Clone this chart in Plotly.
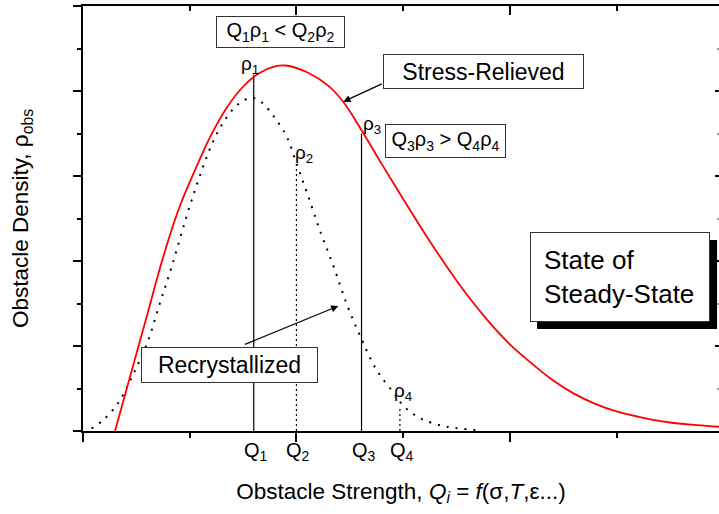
import plotly.graph_objects as go

# ---------------- data ----------------
red_x = [0.30, 0.45, 0.60, 0.75, 0.90, 1.05, 1.20, 1.35, 1.50, 1.65, 1.80, 1.90,
         2.10, 2.30, 2.44, 2.60, 2.80, 3.00, 3.20, 3.40, 3.60, 3.80, 4.00, 4.20,
         4.40, 4.60, 4.80, 5.00, 5.25, 5.50, 5.75, 5.96]
red_y = [0.00, 0.68, 1.36, 2.04, 2.62, 3.07, 3.48, 3.81, 4.05, 4.21, 4.29, 4.30,
         4.22, 4.06, 3.87, 3.56, 3.14, 2.73, 2.33, 1.95, 1.60, 1.29, 1.02, 0.80,
         0.60, 0.44, 0.32, 0.23, 0.155, 0.10, 0.07, 0.05]

dot_x = [0.08, 0.19, 0.33, 0.46, 0.60, 0.72, 0.83, 0.96, 1.08, 1.21, 1.33, 1.46, 1.58,
         1.67, 1.80, 1.91, 2.00, 2.10, 2.22, 2.35, 2.47, 2.60, 2.75, 2.91, 3.00, 3.16,
         3.41, 3.72]
dot_y = [0.03, 0.13, 0.33, 0.64, 1.03, 1.50, 1.93, 2.48, 2.95, 3.38, 3.66, 3.85, 3.92,
         3.87, 3.68, 3.46, 3.15, 2.80, 2.36, 1.93, 1.50, 1.11, 0.72, 0.45, 0.30, 0.15,
         0.05, 0.01]

q_vals = [1.60, 2.00, 2.61, 2.97]
rho_vals = [4.19, 3.15, 3.50, 0.29]
q_labels = ["Q<sub>1</sub>", "Q<sub>2</sub>", "Q<sub>3</sub>", "Q<sub>4</sub>"]
rho_labels = ["ρ<sub>1</sub>", "ρ<sub>2</sub>", "ρ<sub>3</sub>", "ρ<sub>4</sub>"]

x_range = [0, 5.96]
y_range = [0, 5]

FONT = "Arial, 'Liberation Sans', sans-serif"

# pixel -> data helpers for text placement (plot area: x0=83px, 106.7 px/unit; y0=431px, 85 px/unit)
def dx(px):
    return (px - 83) / 106.7

def dy(py):
    return (431 - py) / 85.0

fig = go.Figure()

# Q lines
q_styles = ["solid", "2px,3px", "solid", "2px,3px"]
for q, r, st in zip(q_vals, rho_vals, q_styles):
    fig.add_trace(go.Scatter(x=[q, q], y=[0, r], mode="lines",
                             line=dict(color="black", width=1.2, dash=st),
                             showlegend=False, hoverinfo="skip"))

fig.add_trace(go.Scatter(x=dot_x, y=dot_y, mode="lines",
                         line=dict(color="black", width=2, dash="2px,7px",
                                   shape="spline", smoothing=1.0),
                         showlegend=False, hoverinfo="skip"))
fig.add_trace(go.Scatter(x=red_x, y=red_y, mode="lines",
                         line=dict(color="#ff0000", width=1.8, shape="spline", smoothing=1.0),
                         showlegend=False, hoverinfo="skip"))

# helper trace to activate mirrored top/right axes
fig.add_trace(go.Scatter(x=[0], y=[0], xaxis="x2", yaxis="y2", mode="markers",
                         marker=dict(opacity=0), showlegend=False, hoverinfo="skip"))

ann = []
# Q labels below axis
for q, lab in zip(q_vals, q_labels):
    ann.append(dict(x=q, y=0, xref="x", yref="paper", text=lab, showarrow=False,
                    xanchor="center", yanchor="top", xshift=2, yshift=-6,
                    font=dict(size=20, family=FONT, color="black")))
# rho labels
rho_shift = [(-4, -4, "center"), (-3, -5, "left"), (-1, -5, "left"), (-8, 0, "left")]
for q, r, lab, (xs, ys, xa) in zip(q_vals, rho_vals, rho_labels, rho_shift):
    ann.append(dict(x=q, y=r, text=lab, showarrow=False, xanchor=xa, yanchor="bottom",
                    xshift=xs, yshift=ys,
                    font=dict(size=19, family=FONT, color="black")))

box = dict(showarrow=False, bgcolor="white", bordercolor="#333333", borderwidth=1,
           borderpad=0, xanchor="center", yanchor="middle")

ann.append(dict(x=dx(280.5), y=dy(32), text="Q<sub>1</sub>ρ<sub>1</sub> &lt; Q<sub>2</sub>ρ<sub>2</sub>",
                width=127, height=30, font=dict(size=20, family=FONT, color="black"), **box))
ann.append(dict(x=dx(483.5), y=dy(71.5), text="Stress-Relieved",
                width=199, height=33, font=dict(size=23, family=FONT, color="black"), **box))
ann.append(dict(x=dx(445.5), y=dy(141), text="Q<sub>3</sub>ρ<sub>3</sub> &gt; Q<sub>4</sub>ρ<sub>4</sub>",
                width=119, height=32, font=dict(size=20, family=FONT, color="black"), **box))
ann.append(dict(x=dx(229.5), y=dy(365), text="Recrystallized",
                width=175, height=34, font=dict(size=23, family=FONT, color="black"), **box))

# State box (shadow drawn as a shape beneath it)
state_txt = "State of<br>Steady-State"
ann.append(dict(x=dx(620), y=dy(277), text=state_txt, showarrow=False, align="left",
                width=152, height=62, borderpad=13, bgcolor="white", bordercolor="#333333",
                borderwidth=1,
                font=dict(size=26, family=FONT, color="black")))

# arrows
ann.append(dict(x=dx(343.3), y=dy(101.7), text="", showarrow=True, ax=40, ay=-18.5,
                arrowhead=2, arrowsize=1.2, arrowwidth=1.2, arrowcolor="black"))
ann.append(dict(x=dx(338.3), y=dy(306), text="", showarrow=True, ax=-95, ay=39,
                arrowhead=2, arrowsize=1.2, arrowwidth=1.2, arrowcolor="black"))

shadow = dict(type="rect", xref="x", yref="y", x0=dx(537), x1=dx(717), y0=dy(329), y1=dy(240),
              fillcolor="black", line=dict(width=0), layer="above")

axis_common = dict(showgrid=False, zeroline=False, showticklabels=False,
                   linecolor="black", tickcolor="black")

fig.update_layout(
    width=719, height=514,
    margin=dict(l=83, r=0, t=6, b=83),
    plot_bgcolor="white", paper_bgcolor="white",
    font=dict(family=FONT, color="black"),
    annotations=ann,
    shapes=[shadow],
    xaxis=dict(range=x_range, showline=True, linewidth=2, ticks="outside", tick0=0, dtick=2,
               ticklen=9, tickwidth=1.5,
               minor=dict(dtick=1, ticks="outside", ticklen=5, tickwidth=1.5, tickcolor="black",
                          showgrid=False),
               title=dict(text="Obstacle Strength, <i>Q<sub>i</sub></i> = <i>f</i>(σ,<i>T</i>,ε...)",
                          font=dict(size=22.5, family=FONT), standoff=42),
               **axis_common),
    yaxis=dict(range=y_range, showline=True, linewidth=2, ticks="outside", tick0=0, dtick=1,
               ticklen=8, tickwidth=1.5,
               minor=dict(dtick=0.5, ticks="outside", ticklen=4, tickwidth=1.5, tickcolor="black",
                          showgrid=False),
               title=dict(text="Obstacle Density, ρ<sub>obs</sub>",
                          font=dict(size=22.5, family=FONT), standoff=38),
               **axis_common),
    xaxis2=dict(range=x_range, overlaying="x", side="top", anchor="y2", showline=True,
                linewidth=2, ticks="inside", tick0=0, dtick=2, ticklen=9, tickwidth=1.5,
                minor=dict(dtick=1, ticks="inside", ticklen=5, tickwidth=1.5, tickcolor="black",
                           showgrid=False),
                **axis_common),
    yaxis2=dict(range=y_range, overlaying="y", side="right", anchor="x2", showline=False,
                ticks="inside", tick0=0, dtick=1, ticklen=4, tickwidth=1.5,
                minor=dict(dtick=0.5, ticks="inside", ticklen=2, tickwidth=1.5, tickcolor="#999999",
                           showgrid=False),
                **axis_common),
)

fig.write_html("out.html")
